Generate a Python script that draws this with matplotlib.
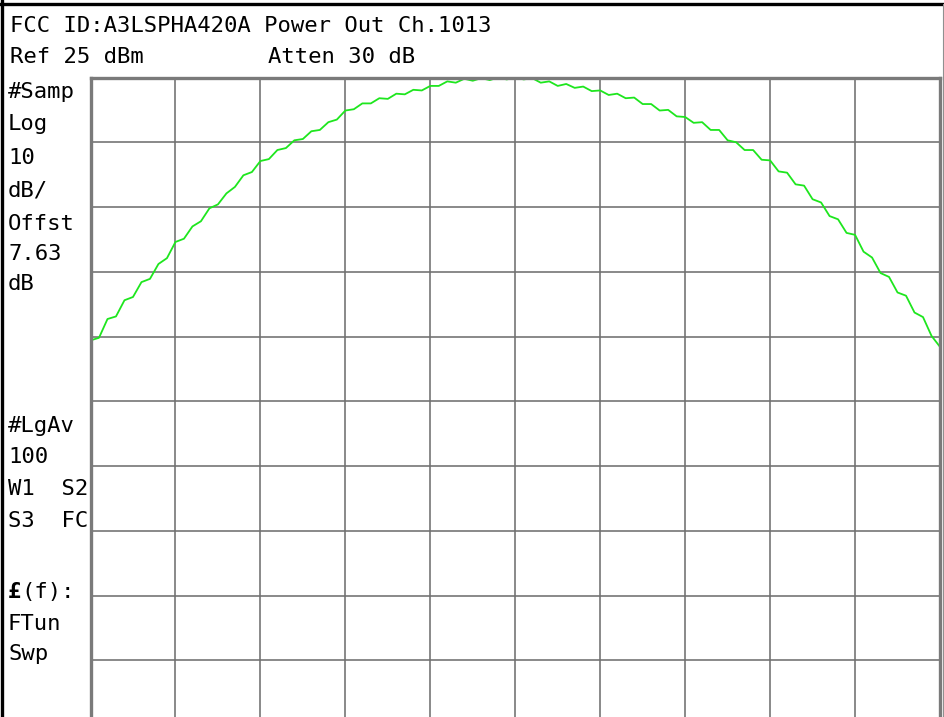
import matplotlib
matplotlib.use('Agg')
import matplotlib.pyplot as plt
from matplotlib.lines import Line2D
import numpy as np

W, H = 944, 717

# trace: x in divisions, level in dBm (ref 25 dBm, 10 dB/div)
div = [i / 10 for i in range(101)]
level = [
    -15.6, -15.2, -12.3, -11.9, -9.4, -8.9, -6.6, -6.1, -3.8, -2.9,
    -0.4, 0.1, 2.0, 2.8, 4.8, 5.4, 7.1, 8.1, 9.9, 10.4,
    12.1, 12.4, 13.8, 14.1, 15.3, 15.5, 16.7, 16.9, 18.1, 18.5,
    19.9, 20.1, 21.0, 21.0, 21.8, 21.7, 22.5, 22.4, 23.1, 23.0,
    23.7, 23.7, 24.4, 24.2, 24.8, 24.5, 24.9, 24.6, 25.0, 24.7,
    25.0, 24.7, 24.9, 24.2, 24.4, 23.7, 24.0, 23.4, 23.6, 22.9,
    23.0, 22.3, 22.5, 21.8, 21.9, 20.9, 20.9, 19.9, 20.0, 19.0,
    18.9, 18.0, 18.1, 16.9, 16.9, 15.3, 15.0, 13.8, 13.8, 12.3,
    12.2, 10.5, 10.3, 8.5, 8.3, 6.2, 5.7, 3.6, 3.1, 1.0,
    0.7, -1.9, -2.8, -5.2, -5.8, -8.2, -8.7, -11.3, -12.0, -14.9,
    -16.6,
]

ref_level = 25
db_per_div = 10

title = 'FCC ID:A3LSPHA420A Power Out Ch.1013'
top_line = ['Ref 25 dBm', 'Atten 30 dB']
side_upper = ['#Samp', 'Log', '10', 'dB/', 'Offst', '7.63', 'dB']
side_upper_base = [98, 130, 164, 197, 230, 260, 290]
side_lower = ['#LgAv', '100', 'W1  S2', 'S3  FC', '(f):', 'FTun', 'Swp']
side_lower_base = [432, 463, 495, 527, 598, 630, 660]

MONO = 'DejaVu Sans Mono'
FS = 16


def px(x, y):
    return x / W, 1 - y / H


fig = plt.figure(figsize=(W / 100, H / 100), dpi=100)

# graticule box: left 90.5, right 940, top 77.5, 10 divisions of 64.75 px down
left, right, top = 90.5, 940.0, 77.5
bottom = top + 10 * 64.75
ax = fig.add_axes([left / W, 1 - bottom / H, (right - left) / W, (bottom - top) / H])
ax.set_xlim(0, 10)
ax.set_ylim(ref_level - 10 * db_per_div, ref_level)
ax.set_xticks(range(11))
ax.set_yticks(range(ref_level - 10 * db_per_div, ref_level + 1, db_per_div))
ax.tick_params(length=0, labelbottom=False, labelleft=False)
ax.grid(True, color='#707070', linewidth=1.15)
for s in ax.spines.values():
    s.set_color('#7a7a7a')
    s.set_linewidth(2.4)

ax.plot(div, level, color='#1ee61e', linewidth=1.3, clip_on=True)

# screen frame
fig.add_artist(Line2D([1.5 / W, 1.5 / W], [0, 1], color='black', linewidth=2.4))
fig.add_artist(Line2D([0, 1], [1 - 3.5 / H, 1 - 3.5 / H], color='black', linewidth=2.4))
fig.add_artist(Line2D([943 / W, 943 / W], [0, 1 - 3.5 / H], color='#909090', linewidth=0.8))

# annotations
fig.text(*px(10, 32), title, family=MONO, fontsize=FS, va='baseline')
fig.text(*px(10, 63), top_line[0], family=MONO, fontsize=FS, va='baseline')
fig.text(*px(268, 63), top_line[1], family=MONO, fontsize=FS, va='baseline')

for t, yb in zip(side_upper, side_upper_base):
    fig.text(*px(8, yb), t, family=MONO, fontsize=FS, va='baseline')

for t, yb in zip(side_lower, side_lower_base):
    if t == '(f):':
        fig.text(*px(8, yb), '£', family=MONO, fontsize=FS, fontweight='bold', va='baseline')
        fig.text(*px(21, yb), t, family=MONO, fontsize=FS, va='baseline')
    else:
        fig.text(*px(8, yb), t, family=MONO, fontsize=FS, va='baseline')

fig.savefig('out.png', dpi=100)
